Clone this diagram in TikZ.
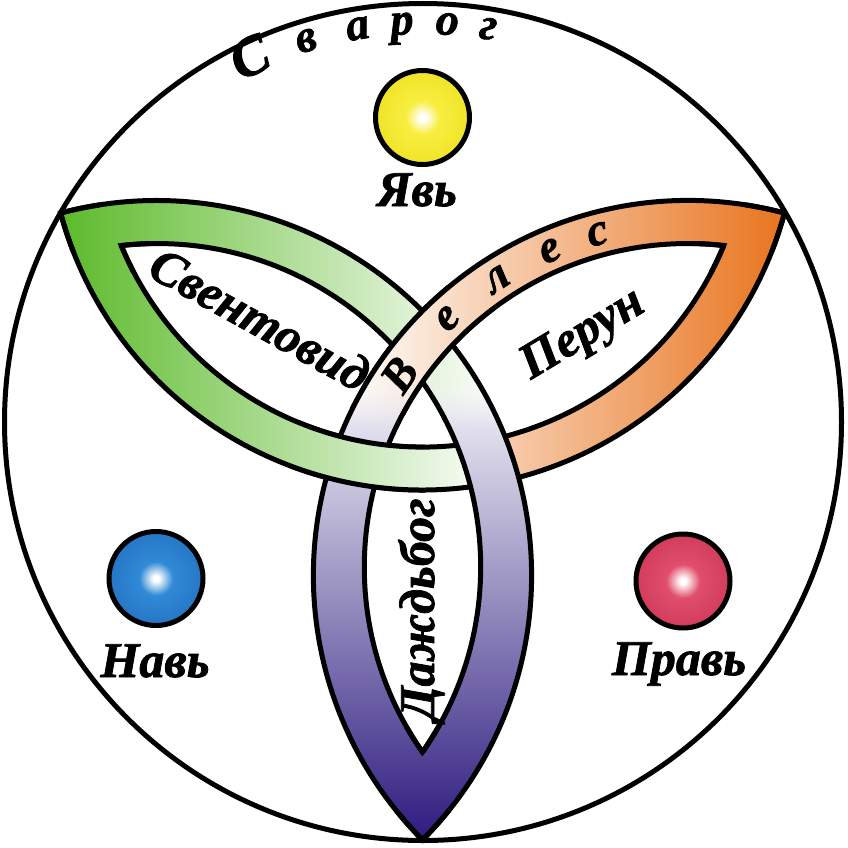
\documentclass[tikz,border=0pt]{standalone}
\usepackage{fontspec}
\setmainfont{Liberation Serif}[BoldItalicFeatures={FakeBold=1.5}]
\usetikzlibrary{calc,fadings}
\definecolor{gtip}{RGB}{92,186,42}
\definecolor{otip}{RGB}{232,116,30}
\definecolor{ptip}{RGB}{44,26,126}
\definecolor{yelM}{RGB}{248,238,64}
\definecolor{yelD}{RGB}{240,228,40}
\definecolor{bluM}{RGB}{48,138,214}
\definecolor{bluD}{RGB}{38,118,198}
\definecolor{redM}{RGB}{224,78,108}
\definecolor{redD}{RGB}{210,60,92}
\pgfdeclareradialshading{sphY}{\pgfpoint{0bp}{0bp}}{color(0bp)=(white);color(1.5bp)=(white);color(9bp)=(yelM);color(25bp)=(yelD);color(50bp)=(yelD)}
\pgfdeclareradialshading{sphB}{\pgfpoint{0bp}{0bp}}{color(0bp)=(white);color(1.5bp)=(white);color(9bp)=(bluM);color(25bp)=(bluD);color(50bp)=(bluD)}
\pgfdeclareradialshading{sphR}{\pgfpoint{0bp}{0bp}}{color(0bp)=(white);color(1.5bp)=(white);color(9bp)=(redM);color(25bp)=(redD);color(50bp)=(redD)}
\tikzset{
  edge/.style={draw=black, line width=5pt},
  ball/.style={circle, draw=black, line width=5pt, minimum size=94pt, inner sep=0pt, shade},
  lbl/.style={font=\fontsize{50}{50}\selectfont\bfseries\itshape, inner sep=0pt, anchor=base},
  godname/.style={font=\fontsize{50}{50}\selectfont\bfseries\itshape, inner sep=0pt, anchor=base},
  arcletter/.style={font=\fontsize{46}{46}\selectfont\bfseries\itshape, inner sep=0pt, anchor=base},
  greenshade/.style={left color=gtip, right color=white},
  orangeshade/.style={left color=white, right color=otip},
  purpleshade/.style={top color=white, bottom color=ptip},
}
% band fill regions
\def\bandone{(Ra) arc[start angle=-95, end angle=-104.84, radius=375] arc[start angle=164.84, end angle=15.16, radius=375] arc[start angle=-75.16, end angle=-85, radius=375] -- (Bi) arc[start angle=22.47, end angle=157.53, radius=326] -- cycle}
\def\bandtwo{(B) arc[start angle=-75.16, end angle=-224.84, radius=375] arc[start angle=44.84, end angle=30, radius=375] -- (Ci) arc[start angle=-214.9, end angle=-83.61, radius=323.5] -- cycle}
\def\bandthree{(C) arc[start angle=44.84, end angle=-104.84, radius=375] -- (Ai) arc[start angle=-96.39, end angle=34.9, radius=323.5] -- cycle}
% band edges
\def\edgeOneO{(A) arc[start angle=164.84, end angle=15.16, radius=375]}
\def\edgeOneI{(Bi) arc[start angle=22.47, end angle=157.53, radius=326]}
\def\edgeTwoO{(B) arc[start angle=-75.16, end angle=-224.84, radius=375]}
\def\edgeTwoI{(Ci) arc[start angle=-214.9, end angle=-83.61, radius=323.5]}
\def\edgeThreeO{(C) arc[start angle=44.84, end angle=-104.84, radius=375]}
\def\edgeThreeI{(Ai) arc[start angle=-96.39, end angle=34.9, radius=323.5]}
\def\outerAll{(Os) arc[start angle=0, end angle=-104.84, radius=375] arc[start angle=164.84, end angle=15.16, radius=375] arc[start angle=-75.16, end angle=-224.84, radius=375] arc[start angle=44.84, end angle=0, radius=375]}
\def\innerAll{(Is) arc[start angle=0, end angle=-96.39, radius=323.5] arc[start angle=157.53, end angle=22.47, radius=326] arc[start angle=-83.61, end angle=-214.9, radius=323.5] arc[start angle=34.9, end angle=0, radius=323.5]}
\newcommand\paintOne{%
  \begin{scope}\clip \bandone;
    \begin{scope}\clip (488,0) rectangle (847,848); \shade[orangeshade] (340,0) rectangle (786,848);\end{scope}
    \begin{scope}\clip (0,0) rectangle (490,848); \shade[greenshade] (60,0) rectangle (500,848);\end{scope}
  \end{scope}
  \draw[edge] \edgeOneO; \draw[edge] \edgeOneI;}
\newcommand\paintTwo{%
  \begin{scope}\clip \bandtwo;
    \shade[purpleshade] (0,360) rectangle (847,842);
    \shade[orangeshade] (340,0) rectangle (786,377);
    \shade[orangeshade, path fading=south] (340,375) rectangle (786,428);
  \end{scope}
  \draw[edge] \edgeTwoO; \draw[edge] \edgeTwoI;}
\newcommand\paintThree{%
  \begin{scope}\clip \bandthree;
    \shade[purpleshade] (0,360) rectangle (847,842);
    \shade[greenshade] (60,0) rectangle (500,377);
    \shade[greenshade, path fading=south] (60,375) rectangle (500,428);
  \end{scope}
  \draw[edge] \edgeThreeO; \draw[edge] \edgeThreeI;}
\begin{document}
\begin{tikzpicture}[x=1pt,y=-1pt]
\useasboundingbox (0,0) rectangle (847,848);
\fill[white] (0,0) rectangle (847,848);
\coordinate (O) at (423,422);
\coordinate (A) at (60.6,213.0);
\coordinate (B) at (784.4,213.0);
\coordinate (C) at (422.5,839.9);
\coordinate (Ai) at (121.2,245.6);
\coordinate (Bi) at (723.8,245.6);
\coordinate (Ci) at (422.5,752.1);
\coordinate (Ra) at (123.95,201.93);
\coordinate (Os) at (531.63,575.5);
\coordinate (Is) at (480.7,567);
\coordinate (V) at (688,571);
% outer ring
\draw[edge] (O) circle[radius=418.5];
% spheres and world names
\node[ball, shading=sphY] (yav) at (422.5,117.5) {};
\node[ball, shading=sphB] (nav) at (156,578.5) {};
\node[ball, shading=sphR] (prav) at (683,581) {};
\node[lbl] (yavL) at (417,206) {Явь};
\node[lbl] (navL) at (155,677) {Навь};
\node[lbl] (pravL) at (679,675) {Правь};
% interlaced trefoil
\paintOne
\paintTwo
\paintThree
\begin{scope}\clip (350,285) rectangle (495,415); \paintTwo \end{scope}
\begin{scope}\clip (290,420) rectangle (425,520); \paintOne \end{scope}
\begin{scope}
  \clip (A) circle[radius=40] (B) circle[radius=40] (C) circle[radius=40]
        (Ai) circle[radius=30] (Bi) circle[radius=30] (Ci) circle[radius=30];
  \draw[edge] \outerAll;
  \draw[edge] \innerAll;
\end{scope}
% god names
\node[godname, rotate=-29] (svent) at (252,334) {Свентовид};
\node[godname, rotate=31] (perun) at (589,345) {Перун};
\node[godname, rotate=90] (dazh) at (434,609.5) {Даждьбог};
\node[arcletter, rotate=55.8] (v1) at ($(V)+(-145.8:334)$) {В};
\node[arcletter, rotate=43.6] (v2) at ($(V)+(-133.6:338)$) {е};
\node[arcletter, rotate=33.2] (v3) at ($(V)+(-123.2:338)$) {л};
\node[arcletter, rotate=23.3] (v4) at ($(V)+(-113.3:338)$) {е};
\node[arcletter, rotate=15] (v5) at ($(V)+(-105:338)$) {с};
% Svarog along the ring
\node[arcletter, font=\fontsize{56}{56}\selectfont\bfseries\itshape, rotate=25.4] (s1) at ($(O)+(-115.4:386)$) {С};
\node[arcletter, rotate=17] (s2) at ($(O)+(-107:388)$) {в};
\node[arcletter, rotate=9.4] (s3) at ($(O)+(-99.4:388)$) {а};
\node[arcletter, rotate=3] (s4) at ($(O)+(-93:388)$) {р};
\node[arcletter, rotate=-3.5] (s5) at ($(O)+(-86.5:388)$) {о};
\node[arcletter, rotate=-9.4] (s6) at ($(O)+(-80.6:388)$) {г};
\end{tikzpicture}
\end{document}
